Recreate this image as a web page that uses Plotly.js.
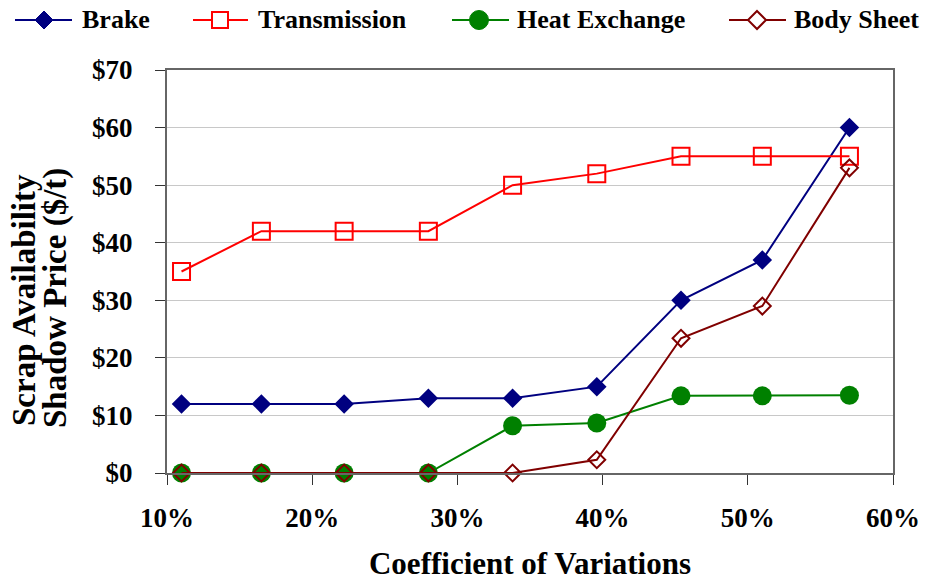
<!DOCTYPE html>
<html>
<head>
<meta charset="utf-8">
<script src="https://cdn.plot.ly/plotly-3.0.1.min.js"></script>
<style>
html, body { margin: 0; padding: 0; background: #ffffff; }
#chart { width: 925px; height: 582px; }
</style>
</head>
<body>
<div id="chart"></div>
<script>
var coefVariation = [11.0, 16.5, 22.2, 28.0, 33.8, 39.6, 45.4, 51.0, 57.0];
var brake = [12, 12, 12, 13, 13, 15, 30, 37, 60];
var transmission = [35, 42, 42, 42, 50, 52, 55, 55, 55];
var heatExchange = [0, 0, 0, 0, 8.2, 8.7, 13.4, 13.4, 13.5];
var bodySheet = [0, 0, 0, 0, 0, 2.3, 23.4, 29, 53];
var seriesNames = ['Brake', 'Transmission', 'Heat Exchange', 'Body Sheet'];
var xTickVals = [10, 20, 30, 40, 50, 60];
var xTickText = ['10%', '20%', '30%', '40%', '50%', '60%'];
var yTickVals = [0, 10, 20, 30, 40, 50, 60, 70];
var yTickText = ['$0', '$10', '$20', '$30', '$40', '$50', '$60', '$70'];
var xTitle = 'Coefficient of Variations';
var yTitleLines = ['Scrap Availability', 'Shadow Price ($/t)'];

var FONT = 'Liberation Serif';
var colors = ['#000080', '#FF0000', '#008000', '#800000'];

// plot area in pixels (for converting legend layout positions to paper coords)
var PL = 167, PR = 893, PT = 70, PB = 473;
function px(x) { return (x - PL) / (PR - PL); }
function py(y) { return (PB - y) / (PB - PT); }

var traces = [
  {x: coefVariation, y: brake, name: seriesNames[0], mode: 'lines+markers',
   line: {color: colors[0], width: 2},
   marker: {symbol: 'diamond', size: 15, color: colors[0]}, cliponaxis: false},
  {x: coefVariation, y: transmission, name: seriesNames[1], mode: 'lines+markers',
   line: {color: colors[1], width: 2},
   marker: {symbol: 'square-open', size: 17, color: colors[1], line: {width: 2, color: colors[1]}}, cliponaxis: false},
  {x: coefVariation, y: heatExchange, name: seriesNames[2], mode: 'lines+markers',
   line: {color: colors[2], width: 2},
   marker: {symbol: 'circle', size: 19, color: colors[2]}, cliponaxis: false},
  {x: coefVariation, y: bodySheet, name: seriesNames[3], mode: 'lines+markers',
   line: {color: colors[3], width: 2},
   marker: {symbol: 'diamond-open', size: 13, color: colors[3], line: {width: 2, color: colors[3]}}, cliponaxis: false}
];

// custom legend (line + marker + label), laid out in pixels
var legY = 20;
var legItems = [
  {x0: 15, x1: 72, cx: 44, tx: 80, sym: 'diamond'},
  {x0: 193, x1: 248, cx: 220, tx: 256, sym: 'square'},
  {x0: 452, x1: 509, cx: 479, tx: 515, sym: 'circle'},
  {x0: 729, x1: 786, cx: 757, tx: 792, sym: 'diamond-open'}
];
var shapes = [];
var annotations = [];
legItems.forEach(function (it, i) {
  var c = colors[i];
  shapes.push({type: 'line', xref: 'paper', yref: 'paper',
    x0: px(it.x0), x1: px(it.x1), y0: py(legY), y1: py(legY), line: {color: c, width: 2}});
  if (it.sym === 'diamond' || it.sym === 'diamond-open') {
    var hw = 9, hh = 9;
    var path = 'M' + px(it.cx) + ',' + py(legY - hh) + ' L' + px(it.cx + hw) + ',' + py(legY) +
               ' L' + px(it.cx) + ',' + py(legY + hh) + ' L' + px(it.cx - hw) + ',' + py(legY) + ' Z';
    shapes.push({type: 'path', xref: 'paper', yref: 'paper', path: path,
      fillcolor: it.sym === 'diamond' ? c : '#ffffff', line: {color: c, width: it.sym === 'diamond' ? 1 : 2}});
  } else if (it.sym === 'square') {
    shapes.push({type: 'rect', xref: 'paper', yref: 'paper',
      x0: px(it.cx - 8), x1: px(it.cx + 8), y0: py(legY + 8), y1: py(legY - 8),
      fillcolor: '#ffffff', line: {color: c, width: 2}});
  } else {
    shapes.push({type: 'circle', xref: 'paper', yref: 'paper',
      x0: px(it.cx - 9.5), x1: px(it.cx + 9.5), y0: py(legY + 9.5), y1: py(legY - 9.5),
      fillcolor: c, line: {color: c, width: 1}});
  }
  annotations.push({text: '<b>' + seriesNames[i] + '</b>', xref: 'paper', yref: 'paper',
    x: px(it.tx), y: py(legY), xanchor: 'left', yanchor: 'middle', showarrow: false,
    font: {family: FONT, size: 26, color: '#000000'}});
});

annotations.push({text: '<b>' + yTitleLines[0] + '</b>', xref: 'paper', yref: 'paper',
  x: px(24), y: py(300), xanchor: 'center', yanchor: 'middle', textangle: -90, showarrow: false,
  font: {family: FONT, size: 33, color: '#000000'}});
annotations.push({text: '<b>' + yTitleLines[1] + '</b>', xref: 'paper', yref: 'paper',
  x: px(55), y: py(298), xanchor: 'center', yanchor: 'middle', textangle: -90, showarrow: false,
  font: {family: FONT, size: 33, color: '#000000'}});

var layout = {
  width: 925, height: 582,
  margin: {l: 167, r: 32, t: 70, b: 109},
  paper_bgcolor: '#ffffff', plot_bgcolor: '#ffffff',
  font: {family: FONT, color: '#000000'},
  showlegend: false,
  xaxis: {
    range: [10, 60], tickmode: 'array', tickvals: xTickVals,
    ticktext: xTickText.map(function (t) { return '<b>' + t + '</b>'; }),
    showgrid: false, zeroline: false,
    showline: true, mirror: true, linecolor: '#666666', linewidth: 2,
    ticks: 'outside', ticklen: 10, tickwidth: 1, tickcolor: '#333333',
    ticklabelstandoff: 10,
    tickfont: {family: FONT, size: 27, color: '#000000'},
    title: {text: '<b>' + xTitle + '</b>', font: {family: FONT, size: 31, color: '#000000'}, standoff: 20}
  },
  yaxis: {
    range: [0, 70], tickmode: 'array', tickvals: yTickVals,
    ticktext: yTickText.map(function (t) { return '<b>' + t + '</b>'; }),
    showgrid: true, gridcolor: '#c8c8c8', gridwidth: 1, zeroline: false,
    showline: true, mirror: true, linecolor: '#666666', linewidth: 2,
    ticks: 'outside', ticklen: 10, tickwidth: 1, tickcolor: '#333333',
    ticklabelstandoff: 17,
    tickfont: {family: FONT, size: 27, color: '#000000'}
  },
  shapes: shapes,
  annotations: annotations
};

Plotly.newPlot('chart', traces, layout, {displayModeBar: false, staticPlot: true});
</script>
</body>
</html>
